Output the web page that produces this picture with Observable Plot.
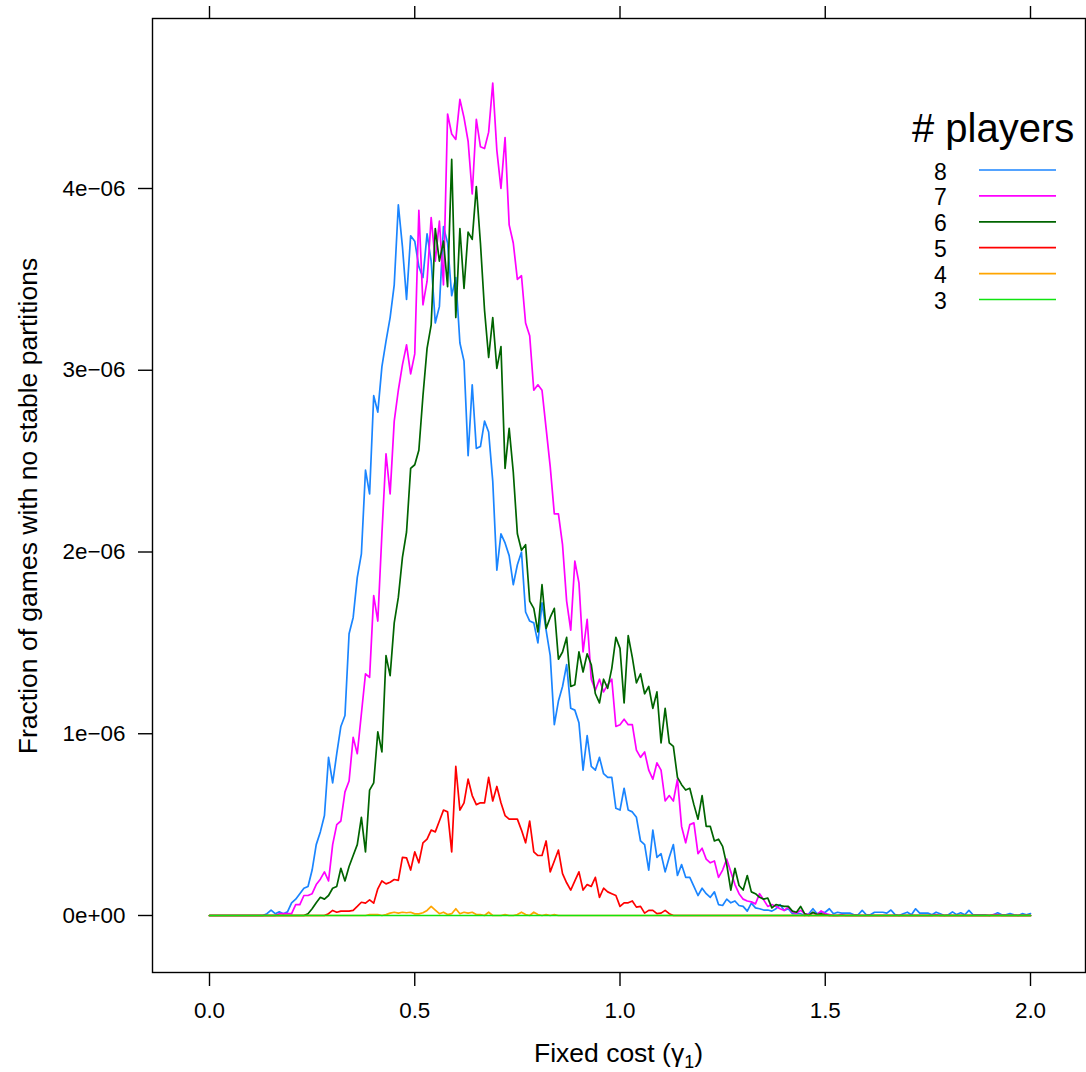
<!DOCTYPE html>
<html>
<head>
<meta charset="utf-8">
<script src="https://cdn.jsdelivr.net/npm/d3@7"></script>
<script src="https://cdn.jsdelivr.net/npm/@observablehq/plot@0.6"></script>
<style>
  html, body { margin: 0; padding: 0; background: #fff; }
  #chart { position: absolute; left: 0; top: 0; }
</style>
</head>
<body>
<div id="chart"></div>
<script>
// x grid: fixed cost gamma_1 from 0 to 2 in steps of 0.01 (201 points)
const gammaStart = 0;
const gammaStep = 0.01;

// series keys (legend order) and colours
const players = ["8", "7", "6", "5", "4", "3"];
const colors  = ["#1a85ff", "#ff00ff", "#006400", "#ff0000", "#ffa500", "#10e410"];

// values in units of 1e-8 (fraction of games with no stable partitions)
const n8 = [
  0,0,0,0,0,0,0,0,0,0,
  0,0,0,0,1,3,1,2,1,2,
  7,9,12,15,16,25,39,46,55,87,
  73,89,104,110,155,164,186,199,245,232,
  286,277,302,316,329,347,391,368,339,374,
  371,357,351,375,360,326,335,379,370,341,
  351,315,305,253,292,257,258,272,266,239,
  190,210,205,198,182,193,200,167,162,161,
  150,172,157,143,105,118,126,138,114,113,
  106,80,99,82,80,87,78,76,76,59,
  58,70,58,57,54,41,39,25,47,32,
  34,24,32,39,22,28,21,21,16,11,
  15,12,10,13,6,5.5,9,7,8,5.5,
  5,2.4,6.8,4.2,3.7,3,3,2.4,3.7,6,
  2.8,3.7,1,1,1,0,1,3.7,1,1.8,
  1.8,3.7,1,1.8,1.3,1.3,1.3,0.4,0.4,2.8,
  0.4,0.4,1.8,1.8,1.8,1.3,3,0.5,0,1,
  1.8,0.4,3.7,1.3,1.3,1.3,0.4,1.8,1,0,
  0.4,2,0.5,1.5,0.4,2.8,0.4,0.4,0.4,0.4,
  0,0.4,1.5,0.4,0.4,1,0.4,0,1,0.4,1
];
const n7 = [
  0,0,0,0,0,0,0,0,0,0,
  0,0,0,0,0,0,0,1,1,1,
  1,6,6,11,11,12,17,20,24,19,
  39,50,52,68,74,98,89,111,133,131,
  176,162,210,254,232,272,289,303,314,298,
  309,388,336,349,384,360,382,347,441,430,
  427,449,439,426,397,438,423,422,431,458,
  421,400,428,380,370,350,352,326,319,289,
  292,289,268,247,221,221,204,173,157,195,
  183,145,163,130,124,130,123,127,130,104,
  105,108,105,105,91,87,90,80,75,84,
  80,63,66,63,75,49,40,50,51,34,
  37,31,29,30,21,25,31,24,17,12,
  9,8,7.5,6.4,12,8.6,5,6,5,3.7,
  2.8,4.6,1.8,1.3,2.8,1,0.5,1.5,0.5,2.5,
  1,0.5,0,0,0.5,0,0,0,0,0,
  0,0,0,0,0,0,0,0,0,0,
  0,0,0,0,0,0,0,0.5,0,0,
  0,0,0,0,0,0,0,0,0,0,
  0,0.5,0.5,0,0,0,0,0,0,0,0
];
const n6 = [
  0,0,0,0,0,0,0,0,0,0,
  0,0,0,0,0,0,0,0,0,0,
  0,0,0,0,1,3.7,7,10,9,11,
  15,16,26,19,27,33,39,54,35,69,
  73,101,90,143,132,161,175,197,211,246,
  248,256,286,312,325,378,360,371,346,416,
  329,378,345,376,372,401,370,333,307,329,
  301,313,246,268,244,210,201,204,173,169,
  156,182,158,164,169,141,145,153,126,127,
  145,134,144,138,122,117,130,125,136,153,
  147,117,154,142,128,133,122,126,114,123,
  95,114,95,93,76,72,69,70,61,53,
  66,49,49,41,42,38,28,14,26,16.5,
  14,22,13,12,10,9,9.6,4.2,6,5.5,
  5,5,2.4,1.8,5,0.9,0,1.8,0.5,0.9,
  0.4,0,0,0,0,0,0,0,0,0,
  0,0,0,0,0,0,0,0,0,0,
  0,0,0,0,0,0,0,0,0,0,
  0,0,0,0,0,0,0,0,0,0,
  0,0,0,0,0,0,0,0,0,0,0
];
const n5 = [
  0,0,0,0,0,0,0,0,0,0,
  0,0,0,0,0,0,0,0,0,0,
  0,0,0,0,0,0,0,0,0,1,
  2.8,1.8,2.4,2.4,2.4,2.8,5,7.3,6.8,8.6,
  6.8,14.7,19,17.4,18.3,19.8,19.3,32,31.7,25,
  35,29,40,42,47,46,52,58,57,35,
  82,58,62,75,66,61,62,62,76,63,
  71,62,55,53,53,53,47,40,52,35,
  33,33,41,24,30,36,23,18,14,19,
  24,14,17,16,21,10,15,13,12,11,
  5,7,7,8,4.6,5,1.3,2.8,2.8,1,
  1.3,2.8,1,0,0,0,0,0,0,0,
  0,0,0,0,0,0,0,0,0,0,
  0,0,0,0,0,0,0,0,0,0,
  0,0,0,0,0,0,0,0,0,0,
  0,0,0,0,0,0,0,0,0,0,
  0,0,0,0,0,0,0,0,0,0,
  0,0,0,0,0,0,0,0,0,0,
  0,0,0,0,0,0,0,0,0,0,
  0,0,0,0,0,0,0,0,0,0,0
];
const n4 = [
  0,0,0,0,0,0,0,0,0,0,
  0,0,0,0,0,0,0,0,0,0,
  0,0,0,0,0,0,0,0,0,0,
  0,0,0,0,0,0,0,0,0,0.5,
  0.5,0.5,0,0.5,1.3,1.8,1.3,1.8,1.5,1.8,
  0.9,0.9,1.5,2.8,5,3,1,1.8,0.5,1,
  3.7,1,1.8,1.3,1.8,0.5,0.5,0,1.8,0,
  0,0,0.5,0,0,0.5,1.8,0.5,0,1.8,
  0.5,0,0.5,0,0.5,0,0,0,0,0,
  0,0,0,0,0,0,0,0,0,0,
  0,0,0,0,0,0,0,0,0,0,
  0,0,0,0,0,0,0,0,0,0,
  0,0,0,0,0,0,0,0,0,0,
  0,0,0,0,0,0,0,0,0,0,
  0,0,0,0,0,0,0,0,0,0,
  0,0,0,0,0,0,0,0,0,0,
  0,0,0,0,0,0,0,0,0,0,
  0,0,0,0,0,0,0,0,0,0,
  0,0,0,0,0,0,0,0,0,0,
  0,0,0,0,0,0,0,0,0,0,0
];
const n3 = [
  0,0,0,0,0,0,0,0,0,0,
  0,0,0,0,0,0,0,0,0,0,
  0,0,0,0,0,0,0,0,0,0,
  0,0,0,0,0,0,0,0,0,0,
  0,0,0,0,0,0,0,0,0,0,
  0,0,0,0,0,0,0,0,0,0,
  0,0,0,0,0,0,0,0,0,0,
  0,0,0,0,0,0,0,0,0,0,
  0,0,0,0,0,0,0,0,0,0,
  0,0,0,0,0,0,0,0,0,0,
  0,0,0,0,0,0,0,0,0,0,
  0,0,0,0,0,0,0,0,0,0,
  0,0,0,0,0,0,0,0,0,0,
  0,0,0,0,0,0,0,0,0,0,
  0,0,0,0,0,0,0,0,0,0,
  0,0,0,0,0,0,0,0,0,0,
  0,0,0,0,0,0,0,0,0,0,
  0,0,0,0,0,0,0,0,0,0,
  0,0,0,0,0,0,0,0,0,0,
  0,0,0,0,0,0,0,0,0,0,0
];

// tick values and labels
const xTicks = [0, 0.5, 1, 1.5, 2];
const xTickLabels = ["0.0", "0.5", "1.0", "1.5", "2.0"];
const yTicksE6 = [0, 1, 2, 3, 4];
const yTickLabels = ["0e+00", "1e\u221206", "2e\u221206", "3e\u221206", "4e\u221206"];

const xLabel = "Fixed cost (\u03B3";
const xLabelSub = "1";
const yLabel = "Fraction of games with no stable partitions";
const legendTitle = "# players";

// build table
const seriesArrays = [n8, n7, n6, n5, n4, n3];
const tables = seriesArrays.map((arr, k) =>
  arr.map((v, i) => ({ x: +(gammaStart + i * gammaStep).toFixed(2), y: v * 1e-8, s: players[k] }))
);

const FONT = "'Liberation Sans', Arial, Helvetica, sans-serif";

const svg = Plot.plot({
  width: 1086,
  height: 1072,
  marginLeft: 152,
  marginRight: 1,
  marginTop: 18,
  marginBottom: 100,
  style: { fontFamily: FONT, fontSize: "22.4px", color: "#000", background: "#fff" },
  x: { domain: [-0.13886, 2.13398] },
  y: { domain: [-0.31362e-6, 4.93535e-6] },
  marks: [
    Plot.axisX({ ticks: xTicks, tickFormat: d => xTickLabels[xTicks.indexOf(d)], tickSize: 14, tickPadding: 16, strokeWidth: 1.4, label: null }),
    Plot.axisX({ anchor: "top", ticks: xTicks, tickFormat: () => "", tickSize: 13, strokeWidth: 1.4, label: null }),
    Plot.axisY({ ticks: yTicksE6.map(t => t * 1e-6), tickFormat: d => yTickLabels[Math.round(d * 1e6)], tickSize: 14, tickPadding: 13, strokeWidth: 1.4, label: null }),
    ...tables.map((t, k) => Plot.line(t, { x: "x", y: "y", stroke: colors[k], strokeWidth: 1.7 })),
    Plot.frame({ stroke: "#000", strokeWidth: 1.4 })
  ]
});

const g = d3.select(svg);

// x-axis title
const xt = g.append("text")
  .attr("x", 618.5).attr("y", 1062)
  .attr("text-anchor", "middle")
  .attr("font-family", FONT).attr("font-size", 26.5).attr("fill", "#000");
xt.append("tspan").text(xLabel);
xt.append("tspan").attr("font-size", 18).attr("dy", 6).text(xLabelSub);
xt.append("tspan").attr("dy", -6).text(")");

// y-axis title
g.append("text")
  .attr("transform", "translate(37,506) rotate(-90)")
  .attr("text-anchor", "middle")
  .attr("font-family", FONT).attr("font-size", 26.5).attr("fill", "#000")
  .text(yLabel);

// legend (inside the panel, top right)
g.append("text")
  .attr("x", 912).attr("y", 142)
  .attr("text-anchor", "start")
  .attr("font-family", FONT).attr("font-size", 40).attr("fill", "#000")
  .text(legendTitle);

players.forEach((p, k) => {
  const base = 179.5 + 25.9 * k;
  g.append("text")
    .attr("x", 940.5).attr("y", base)
    .attr("text-anchor", "middle")
    .attr("font-family", FONT).attr("font-size", 23).attr("fill", "#000")
    .text(p);
  g.append("line")
    .attr("x1", 979).attr("x2", 1056)
    .attr("y1", base - 9.5).attr("y2", base - 9.5)
    .attr("stroke", colors[k]).attr("stroke-width", 1.7);
});

document.getElementById("chart").appendChild(svg);
</script>
</body>
</html>
